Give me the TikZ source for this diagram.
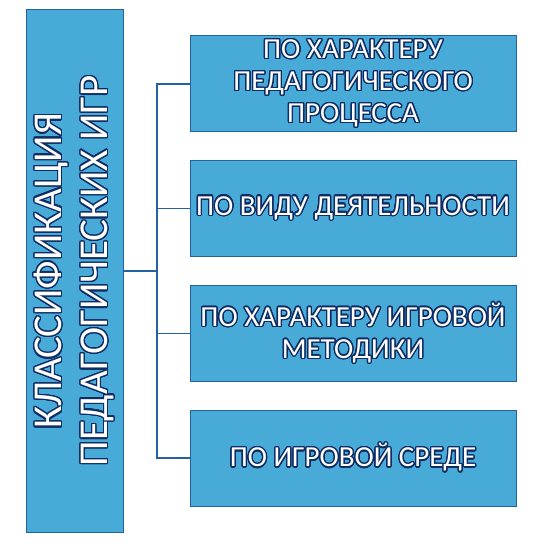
\documentclass[tikz,border=0pt]{standalone}
\usepackage{fontspec}
\setmainfont{Carlito}
\usepackage{contour}
\contourlength{1.3pt}
\contournumber{24}
\definecolor{boxfill}{RGB}{72,170,214}
\definecolor{boxline}{RGB}{38,98,158}
\definecolor{glow}{RGB}{16,44,100}
\newcommand{\gl}[1]{\contour{glow}{#1}}

\begin{document}
\begin{tikzpicture}[x=1pt,y=-1pt]
  \useasboundingbox (0,0) rectangle (544,556);

  \begin{scope}[every node/.style={draw=boxline, fill=boxfill, text=white, align=center, inner sep=0pt, line width=1pt}]
    \node[rotate=90, minimum width=522pt, minimum height=97pt, font=\fontsize{41}{46}\selectfont] (0) at (74.5,271)
      {\gl{КЛАССИФИКАЦИЯ}\\\gl{ПЕДАГОГИЧЕСКИХ ИГР}};

    \begin{scope}[every node/.append style={minimum width=326pt, minimum height=96pt, font=\fontsize{29}{32}\selectfont}]
      \node (1) at (353,84)    {\gl{ПО ХАРАКТЕРУ}\\\gl{ПЕДАГОГИЧЕСКОГО}\\\gl{ПРОЦЕССА}};
      \node (2) at (353,208.5) {\gl{ПО ВИДУ ДЕЯТЕЛЬНОСТИ}};
      \node (3) at (353,333.5) {\gl{ПО ХАРАКТЕРУ ИГРОВОЙ}\\\gl{МЕТОДИКИ}};
      \node (4) at (353,458)   {\gl{ПО ИГРОВОЙ СРЕДЕ}};
    \end{scope}
  \end{scope}

  \coordinate (bus) at (157,271);

  \begin{scope}[line width=1.2pt, boxline]
    \draw (0.south) -- (bus);
    \draw (bus) |- (1.west);
    \draw (bus) |- (2.west);
    \draw (bus) |- (3.west);
    \draw (bus) |- (4.west);
  \end{scope}

\end{tikzpicture}
\end{document}
